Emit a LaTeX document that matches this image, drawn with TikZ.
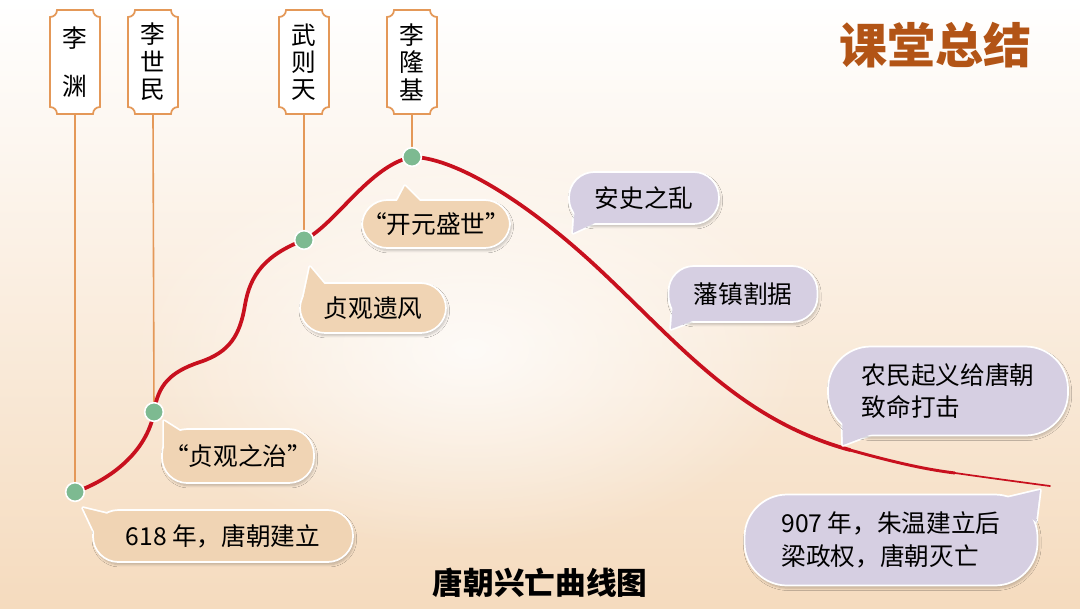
\documentclass[tikz,border=0pt]{standalone}
\usepackage{fontspec}
\newfontfamily\cjk{Noto Sans CJK SC}
\usetikzlibrary{fadings,shadows.blur}
\tikzfading[name=glowfade,inner color=transparent!0,outer color=transparent!100]
\definecolor{bgbot}{RGB}{245,219,190}
\definecolor{bgmid}{RGB}{251,238,224}
\definecolor{tagc}{RGB}{228,152,88}
\definecolor{curvec}{RGB}{200,16,30}
\definecolor{dotc}{RGB}{125,186,145}
\definecolor{tanc}{RGB}{240,212,180}
\definecolor{lavc}{RGB}{214,207,226}
\definecolor{titlec}{RGB}{178,84,22}
\newcommand\tagframe[3]{%
 \path[tagbox] ({#1-25+7},#2) -- ({#1+25-7},#2)
  .. controls ({#1+25-7},{#2+4}) and ({#1+25-4},{#2+7}) .. ({#1+25},{#2+7})
  -- ({#1+25},{#3-7})
  .. controls ({#1+25-4},{#3-7}) and ({#1+25-7},{#3-4}) .. ({#1+25-7},#3)
  -- ({#1-25+7},#3)
  .. controls ({#1-25+7},{#3-4}) and ({#1-25+4},{#3-7}) .. ({#1-25},{#3-7})
  -- ({#1-25},{#2+7})
  .. controls ({#1-25+4},{#2+7}) and ({#1-25+7},{#2+4}) .. cycle;}
\begin{document}
\begin{tikzpicture}[x=0.75pt,y=-0.75pt,
  tagbox/.style={draw=tagc,line width=1.3pt,fill=white},
  tagtext/.style={font=\cjk\fontsize{18.5}{20.5}\selectfont,align=center,inner sep=0pt,minimum width=37.5pt,minimum height=79.5pt},
  stem/.style={draw=tagc,line width=1.2pt},
  curve/.style={draw=curvec,line width=2.8pt,line cap=round},
  dot/.style={circle,fill=dotc,draw=white,line width=1.2pt,minimum size=14pt,inner sep=0pt},
  bubble/.style={rounded corners=19pt,draw=white,line width=1.3pt,inner sep=0pt,align=left,
    font=\cjk\fontsize{18.5}{24.5}\selectfont,
    blur shadow={shadow xshift=1pt,shadow yshift=-2pt,shadow opacity=22,shadow blur steps=6}},
  bsize/.style 2 args={minimum width=#1*0.75pt,minimum height=#2*0.75pt},
  tailstroke/.style={draw=white,line width=2.6pt,line join=round},
]
% background
\useasboundingbox (0,0) rectangle (1080,608);
\shade[top color=white,middle color=bgmid,bottom color=bgbot] (0,0) rectangle (1080,608);
\fill[white,path fading=glowfade,opacity=0.8] (470,350) ellipse (340 and 200);

% header and title
\node[font=\cjk\bfseries\fontsize{36}{36}\selectfont,text=titlec] (head) at (935,45) {课堂总结};
\node[font=\cjk\bfseries\fontsize{23}{23}\selectfont] (title) at (540,583) {唐朝兴亡曲线图};

% name tags
\tagframe{75}{10}{114}
\tagframe{153}{10}{114}
\tagframe{304}{10}{114}
\tagframe{412}{10}{114}
\node[tagtext,minimum height=78pt] (t1) at (75,62) {李\\[16pt]渊};
\node[tagtext,minimum height=78pt] (t2) at (153,62) {李\\世\\民};
\node[tagtext,minimum height=78pt] (t3) at (304,62) {武\\则\\天};
\node[tagtext,minimum height=78pt] (t4) at (412,62) {李\\隆\\基};

% curve points
\coordinate (p1) at (75,492);
\coordinate (p2) at (154,412);
\coordinate (p3) at (304,240);
\coordinate (p4) at (412,157);
\coordinate (q1) at (200,362);
\coordinate (q2) at (245,305);
\coordinate (q3) at (600,270);
\coordinate (q4) at (850,450);
\coordinate (q5) at (1050,486);

% stems
\draw[stem] (t1.south) -- (p1);
\draw[stem] (t2.south) -- (p2);
\draw[stem] (t3.south) -- (p3);
\draw[stem] (t4.south) -- (p4);

% curve
\draw[curve] (p1) .. controls (110,480) and (147,452) .. (p2)
  .. controls (158,385) and (170,372) .. (q1)
  .. controls (230,352) and (240,335) .. (q2)
  .. controls (250,275) and (265,255) .. (p3)
  .. controls (335,225) and (370,165) .. (p4)
  .. controls (450,157) and (520,195) .. (q3)
  .. controls (680,345) and (740,420) .. (q4);
\draw[draw=curvec,line width=2.2pt] (q4) .. controls (900,464) and (930,470) .. (955,473);
\draw[draw=curvec,line width=1.3pt,line cap=round] (955,473) .. controls (990,478) and (1020,482) .. (q5);

% dots
\node[dot] (d1) at (p1) {};
\node[dot] (d2) at (p2) {};
\node[dot] (d3) at (p3) {};
\node[dot] (d4) at (p4) {};

% bubbles (tan)
\path[tailstroke,fill=tanc] (396,203) -- (405,186) -- (422,203) -- cycle;
\node[bubble,fill=tanc,bsize={148}{48}] (b1) at (436,224) {“开元盛世”};
\path[fill=tanc] (396,203) -- (405,186) -- (422,203) -- cycle;

\path[tailstroke,fill=tanc] (303,300) -- (310,267) -- (326,286) -- cycle;
\node[bubble,fill=tanc,bsize={146}{50}] (b2) at (373,308) {贞观遗风};
\path[fill=tanc] (303,300) -- (310,267) -- (326,286) -- cycle;

\path[tailstroke,fill=tanc] (164,447) -- (164,421) -- (183,433) -- cycle;
\node[bubble,fill=tanc,bsize={152}{54}] (b3) at (238,456) {“贞观之治”};
\path[fill=tanc] (164,447) -- (164,421) -- (183,433) -- cycle;

\path[tailstroke,fill=tanc] (98,540) -- (83,508) -- (112,515) -- cycle;
\node[bubble,fill=tanc,bsize={260}{52}] (b4) at (223,536) {618 年，唐朝建立};
\path[fill=tanc] (98,540) -- (83,508) -- (112,515) -- cycle;

% bubbles (lavender)
\path[tailstroke,fill=lavc] (575,205) -- (573,233) -- (597,222) -- cycle;
\node[bubble,fill=lavc,bsize={150}{52}] (b5) at (644,198) {安史之乱};
\path[fill=lavc] (575,205) -- (573,233) -- (597,222) -- cycle;

\path[tailstroke,fill=lavc] (673,300) -- (671,329) -- (695,320) -- cycle;
\node[bubble,fill=lavc,bsize={149}{56}] (b6) at (743,294) {藩镇割据};
\path[fill=lavc] (673,300) -- (671,329) -- (695,320) -- cycle;

\path[tailstroke,fill=lavc] (842,415) -- (843,445) -- (872,434) -- cycle;
\node[bubble,fill=lavc,bsize={240}{89},rounded corners=32pt] (b7) at (948,391) {农民起义给唐朝\\致命打击};
\path[fill=lavc] (842,415) -- (843,445) -- (872,434) -- cycle;

\path[tailstroke,fill=lavc] (1006,498) -- (1040,490) -- (1036,522) -- cycle;
\node[bubble,fill=lavc,bsize={293}{91},rounded corners=32pt] (b8) at (891,540) {907 年，朱温建立后\\梁政权，唐朝灭亡};
\path[fill=lavc] (1006,498) -- (1040,490) -- (1036,522) -- cycle;
\end{tikzpicture}
\end{document}
